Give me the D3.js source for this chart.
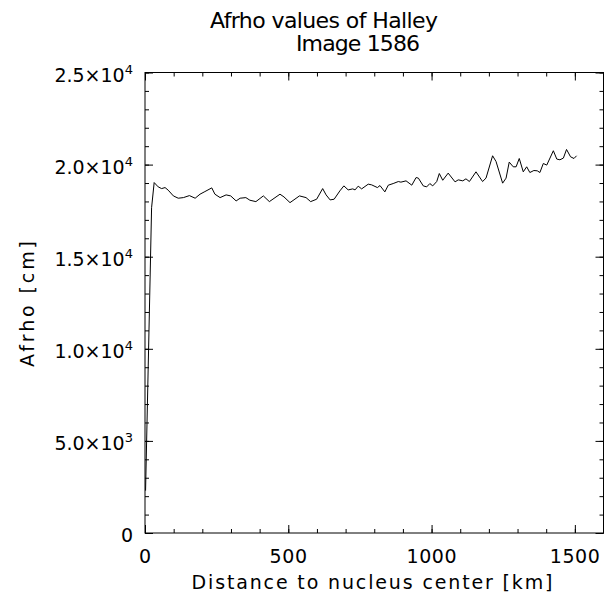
<!DOCTYPE html>
<html><head><meta charset="utf-8">
<script src="https://cdn.jsdelivr.net/npm/d3@7"></script>
<style>html,body{margin:0;padding:0;background:#fff;} svg{display:block;} text{font-family:"DejaVu Sans",sans-serif;fill:#000;}</style>
</head><body>
<script>
const titleLines = ["Afrho values of Halley", "Image 1586"];
const xLabel = "Distance to nucleus center [km]";
const yLabel = "Afrho [cm]";
const xTicks = [0, 500, 1000, 1500];
const xTickLabels = ["0", "500", "1000", "1500"];
const yTicks = [0, 5000, 10000, 15000, 20000, 25000];
const yTickMant = ["0", "5.0", "1.0", "1.5", "2.0", "2.5"];
const yTickExp = ["", "3", "4", "4", "4", "4"];
const distance = [2, 23, 32, 46, 58, 70, 81, 99, 116, 134, 155, 175, 192, 209, 233, 244, 262, 283, 299, 318, 332, 352, 366, 387, 413, 434, 471, 485, 506, 539, 562, 578, 599, 620, 632, 646, 660, 680, 694, 709, 725, 733, 744, 756, 779, 791, 811, 820, 837, 849, 866, 884, 893, 911, 931, 946, 954, 971, 983, 994, 1004, 1018, 1027, 1039, 1058, 1082, 1093, 1109, 1120, 1132, 1155, 1178, 1190, 1213, 1225, 1248, 1260, 1271, 1285, 1295, 1306, 1320, 1332, 1343, 1357, 1369, 1378, 1390, 1402, 1425, 1437, 1448, 1460, 1471, 1485, 1497, 1506];
const afrho = [2300, 17660, 19025, 18791, 18698, 18753, 18611, 18301, 18175, 18208, 18317, 18175, 18393, 18535, 18736, 18393, 18208, 18355, 18301, 18028, 18175, 18208, 18066, 17990, 18301, 17990, 18393, 18246, 17935, 18301, 18208, 17990, 18121, 18698, 18355, 18083, 18121, 18573, 18845, 18627, 18682, 18627, 18829, 18682, 18938, 18900, 18753, 18862, 18519, 18883, 18971, 19080, 19047, 19118, 18883, 19297, 19265, 18845, 18791, 18971, 18845, 19080, 19515, 19150, 19537, 19063, 19172, 19118, 19227, 19080, 19608, 19080, 19265, 20479, 20169, 18992, 19265, 20136, 19880, 19880, 20332, 19608, 19880, 19570, 19679, 19662, 19570, 20060, 19973, 20752, 20299, 20261, 20354, 20822, 20425, 20332, 20479];

const W = 604, H = 600;
const L = 145, R = 603.5, T = 72.5, B = 533;
const svg = d3.select("body").append("svg").attr("width", W).attr("height", H);
const x = d3.scaleLinear().domain([0, 1600]).range([L, R]);
const y = d3.scaleLinear().domain([0, 25000]).range([B, T]);
const xMinor = d3.range(0, 1601, 100);
const yMinor = d3.range(0, 25001, 1000);

function styleAxis(g){ g.select(".domain").remove(); g.selectAll("line").attr("stroke","#000").attr("stroke-width",1); g.selectAll("text").remove(); }
// minor ticks
svg.append("g").attr("transform",`translate(0,${B})`).call(d3.axisBottom(x).tickValues(xMinor).tickSize(-4)).call(styleAxis);
svg.append("g").attr("transform",`translate(0,${T})`).call(d3.axisTop(x).tickValues(xMinor).tickSize(-4)).call(styleAxis);
svg.append("g").attr("transform",`translate(${L},0)`).call(d3.axisLeft(y).tickValues(yMinor).tickSize(-4)).call(styleAxis);
svg.append("g").attr("transform",`translate(${R},0)`).call(d3.axisRight(y).tickValues(yMinor).tickSize(-4)).call(styleAxis);
// major ticks
svg.append("g").attr("transform",`translate(0,${B})`).call(d3.axisBottom(x).tickValues(xTicks).tickSize(-8)).call(styleAxis);
svg.append("g").attr("transform",`translate(0,${T})`).call(d3.axisTop(x).tickValues(xTicks).tickSize(-8)).call(styleAxis);
svg.append("g").attr("transform",`translate(${L},0)`).call(d3.axisLeft(y).tickValues(yTicks).tickSize(-8)).call(styleAxis);
svg.append("g").attr("transform",`translate(${R},0)`).call(d3.axisRight(y).tickValues(yTicks).tickSize(-8)).call(styleAxis);
// frame
svg.append("rect").attr("x",L).attr("y",T).attr("width",R-L).attr("height",B-T).attr("fill","none").attr("stroke","#000").attr("stroke-width",1);

// line
const pts = distance.map((d,i)=>[d, afrho[i]]);
svg.append("path").datum(pts).attr("fill","none").attr("stroke","#000").attr("stroke-width",1)
  .attr("d", d3.line().x(d=>x(d[0])).y(d=>y(d[1])));

// x tick labels
svg.append("g").selectAll("text").data(xTicks).join("text")
  .attr("x", d=>x(d)).attr("y", 563).attr("text-anchor","middle").attr("font-size",19)
  .attr("textLength",(d,i)=>xTickLabels[i].length*12.5).attr("lengthAdjust","spacing")
  .text((d,i)=>xTickLabels[i]);
// y tick labels
const yl = svg.append("g").selectAll("text").data(yTicks).join("text")
  .attr("x", 133).attr("y", d=>y(d)+9).attr("text-anchor","end").attr("font-size",19);
yl.each(function(d,i){
  const t = d3.select(this);
  if (yTickExp[i] === "") { t.text(yTickMant[i]); return; }
  t.append("tspan").text(yTickMant[i] + "\u00d710");
  t.append("tspan").attr("font-size",13).attr("dy",-8).text(yTickExp[i]);
});
// axis titles
svg.append("text").attr("x", 372).attr("y", 589).attr("text-anchor","middle").attr("font-size",19)
  .attr("textLength", 361).attr("lengthAdjust","spacing").text(xLabel);
svg.append("text").attr("transform","translate(34,304) rotate(-90)").attr("text-anchor","middle").attr("font-size",19)
  .attr("textLength", 126).attr("lengthAdjust","spacing").text(yLabel);
// title
svg.append("text").attr("x", 324).attr("y", 28).attr("text-anchor","middle").attr("font-size",22)
  .attr("textLength", 228).attr("lengthAdjust","spacing").text(titleLines[0]);
svg.append("text").attr("x", 358).attr("y", 51).attr("text-anchor","middle").attr("font-size",22)
  .attr("textLength", 124).attr("lengthAdjust","spacing").text(titleLines[1]);
</script>
</body></html>
